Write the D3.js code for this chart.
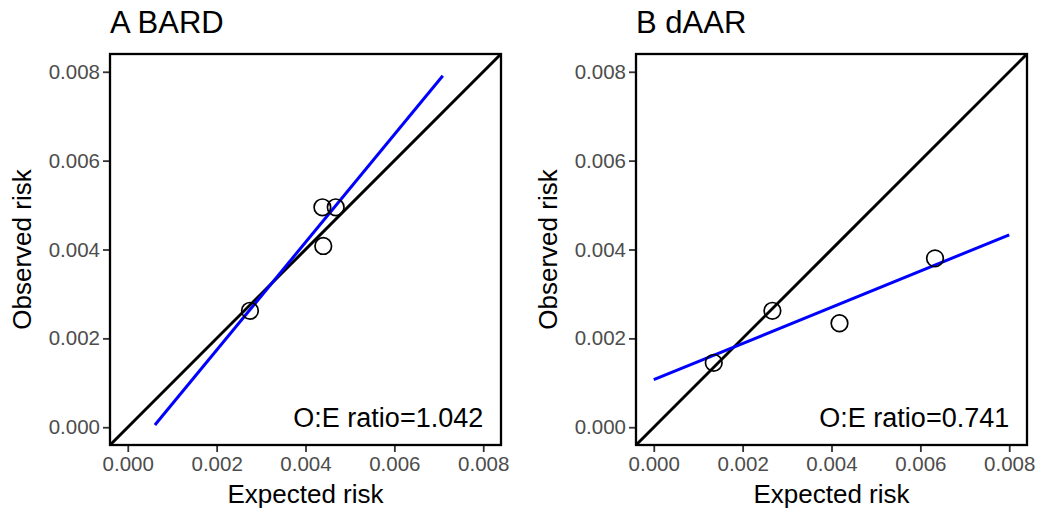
<!DOCTYPE html>
<meta charset="utf-8">
<style>
body { margin: 0; background: #fff; }
text { font-family: "Liberation Sans", Arial, sans-serif; }
.tick text { fill: #4d4d4d; font-size: 20.5px; }
.tick line { stroke: #333; stroke-width: 1.8px; }
.domain { display: none; }
</style>
<body>
<script src="https://cdn.jsdelivr.net/npm/d3@7"></script>
<script>
// values
var ticks = [0, 0.002, 0.004, 0.006, 0.008];
var tickLabels = ["0.000", "0.002", "0.004", "0.006", "0.008"];

var titles = ["A BARD", "B dAAR"];
var ratios = ["O:E ratio=1.042", "O:E ratio=0.741"];

var expA = [0.00275, 0.00438, 0.00468, 0.00440];
var obsA = [0.00262, 0.00495, 0.00495, 0.00408];
var fitA = [[0.00061, 0.00005], [0.00709, 0.00791]];

var expB = [0.00135, 0.00267, 0.00418, 0.00633];
var obsB = [0.00145, 0.00262, 0.00234, 0.00380];
var fitB = [[0.0000, 0.00107], [0.0080, 0.00433]];

var panels = [
  {title: titles[0], ratio: ratios[0], x: expA, y: obsA, fit: fitA, left: 110},
  {title: titles[1], ratio: ratios[1], x: expB, y: obsB, fit: fitB, left: 636}
];

var width = 1045, height = 516,
    plotTop = 54, size = 391;

var svg = d3.select("body").append("svg")
    .attr("width", width)
    .attr("height", height);

var dom = [-0.0004, 0.0084];

panels.forEach(function(p) {
  var x = d3.scaleLinear().domain(dom).range([0, size]);
  var y = d3.scaleLinear().domain(dom).range([size, 0]);

  var g = svg.append("g").attr("transform", "translate(" + p.left + "," + plotTop + ")");

  g.append("text")
      .attr("x", 0)
      .attr("y", -21)
      .style("font-size", "31px")
      .text(p.title);

  g.append("g")
      .attr("class", "axis")
      .attr("transform", "translate(0," + size + ")")
      .call(d3.axisBottom(x).tickValues(ticks).tickFormat(function(d, i) { return tickLabels[i]; })
        .tickSize(7).tickPadding(4));

  g.append("g")
      .attr("class", "axis")
      .call(d3.axisLeft(y).tickValues(ticks).tickFormat(function(d, i) { return tickLabels[i]; })
        .tickSize(7).tickPadding(3));

  g.append("clipPath").attr("id", "clip" + p.left)
    .append("rect").attr("width", size).attr("height", size);

  var lines = g.append("g").attr("clip-path", "url(#clip" + p.left + ")");

  lines.append("line")
      .attr("x1", x(dom[0])).attr("y1", y(dom[0]))
      .attr("x2", x(dom[1])).attr("y2", y(dom[1]))
      .attr("stroke", "#000")
      .attr("stroke-width", 3);

  lines.append("line")
      .attr("x1", x(p.fit[0][0])).attr("y1", y(p.fit[0][1]))
      .attr("x2", x(p.fit[1][0])).attr("y2", y(p.fit[1][1]))
      .attr("stroke", "#0000ff")
      .attr("stroke-width", 3);

  g.selectAll("circle.pt")
    .data(p.x)
    .join("circle")
      .attr("class", "pt")
      .attr("cx", function(d) { return x(d); })
      .attr("cy", function(d, i) { return y(p.y[i]); })
      .attr("r", 8.3)
      .attr("fill", "none")
      .attr("stroke", "#000")
      .attr("stroke-width", 1.7);

  g.append("rect")
      .attr("width", size)
      .attr("height", size)
      .attr("fill", "none")
      .attr("stroke", "#000")
      .attr("stroke-width", 2.3);

  g.append("text")
      .attr("x", x(0.008))
      .attr("y", y(0))
      .attr("text-anchor", "end")
      .style("font-size", "27px")
      .text(p.ratio);

  g.append("text")
      .attr("x", size / 2)
      .attr("y", size + 58)
      .attr("text-anchor", "middle")
      .style("font-size", "26px")
      .text("Expected risk");

  g.append("text")
      .attr("transform", "rotate(-90)")
      .attr("x", -size / 2)
      .attr("y", -79)
      .attr("text-anchor", "middle")
      .style("font-size", "26px")
      .text("Observed risk");
});
</script>
